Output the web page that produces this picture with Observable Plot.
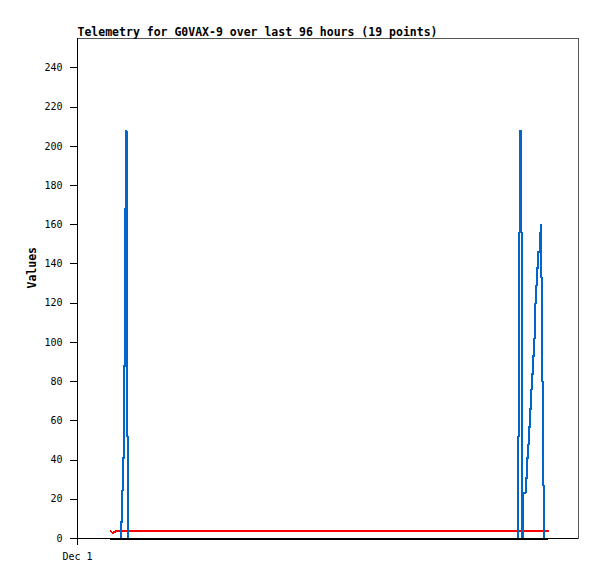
<!DOCTYPE html>
<html>
<head>
<meta charset="utf-8">
<script src="https://cdn.jsdelivr.net/npm/d3@7"></script>
<script src="https://cdn.jsdelivr.net/npm/@observablehq/plot@0.6"></script>
<style>
  body { margin: 0; background: #fff; }
  svg { shape-rendering: crispEdges; }
</style>
</head>
<body>
<div id="chart"></div>
<script>
const titleText = "Telemetry for G0VAX-9 over last 96 hours (19 points)";
const yLabel = "Values";
const xTickHours = [0];
const xTickLabels = ["Dec 1"];
const yTicks = [0, 20, 40, 60, 80, 100, 120, 140, 160, 180, 200, 220, 240];

// hours since start of window
const blueHours = [6.32, 8.30, 8.53, 8.76, 8.97, 9.10, 9.25, 9.39, 9.58, 9.77,
  84.37, 84.56, 84.76, 84.95, 85.14, 85.24, 85.37, 85.85, 86.13, 86.33, 86.52, 86.71,
  86.90, 87.09, 87.28, 87.48, 87.63, 87.76, 87.90, 88.09, 88.28, 88.53, 88.72, 88.85,
  89.01, 89.20, 89.39, 90.25];
const blueValues = [0, 8.3, 24.5, 41, 88, 168, 208, 156, 52, 0,
  52, 156, 208, 156, 52, 0, 23, 31, 41, 48, 57, 66,
  76, 84, 93, 102, 111, 120, 129, 138, 146, 156, 160, 133,
  80, 27, 0, 0];

const redHours = [6.32, 6.75, 7.3, 90.25];
const redValues = [3.8, 2.7, 3.7, 3.7];

const blackHours = [6.32, 90.25];
const blackValues = [0, 0];

const toRows = (hs, vs) => hs.map((h, i) => ({h, v: vs[i]}));
const blue = toRows(blueHours, blueValues);
const red = toRows(redHours, redValues);
const black = toRows(blackHours, blackValues);

const chart = Plot.plot({
  width: 597,
  height: 579,
  marginLeft: 77,
  marginRight: 19,
  marginTop: 38,
  marginBottom: 41,
  style: {fontFamily: "DejaVu Sans Mono", fontSize: "10px", color: "#000", background: "#fff"},
  x: {domain: [0, 96], ticks: xTickHours, tickFormat: (d) => xTickLabels[xTickHours.indexOf(d)], tickSize: 7, tickPadding: 7, label: null},
  y: {domain: [0, 255], ticks: yTicks, tickSize: 7, tickPadding: 8, label: null},
  marks: [
    Plot.frame({stroke: "#555"}),
    Plot.ruleX([0], {stroke: "#000"}),
    Plot.line(red, {x: "h", y: "v", stroke: "#ff0000", strokeWidth: 2}),
    Plot.line(blue, {x: "h", y: "v", stroke: "#0066cc", strokeWidth: 2, curve: "step-after"}),
    Plot.ruleY([0], {stroke: "#000"}),
    Plot.line(black, {x: "h", y: "v", stroke: "#000", strokeWidth: 2}),
    Plot.text([titleText], {frameAnchor: "top-left", dy: -11, textAnchor: "start", fontWeight: "bold", fontSize: 11.5, fill: "#000"}),
    Plot.text([yLabel], {frameAnchor: "left", dx: -45, rotate: -90, fontWeight: "bold", fontSize: 11.5, fill: "#000"})
  ]
});
document.getElementById("chart").appendChild(chart);
</script>
</body>
</html>
